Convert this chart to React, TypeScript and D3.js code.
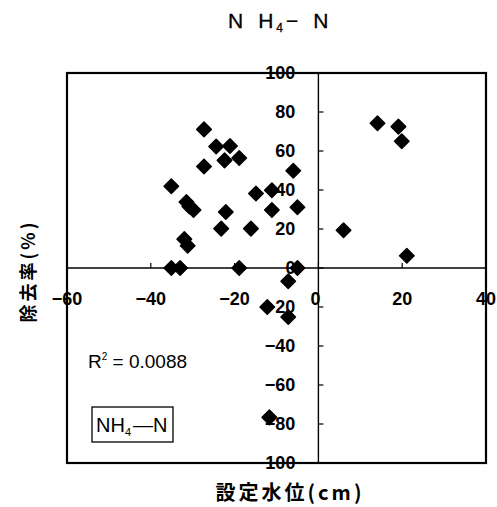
import * as d3 from "d3";

// 設定水位 (cm) vs 除去率 (%)
const levelCm = [
  -27.3, -24.4, -21.1, -22.4, -18.9, -27.3, -35.1, -31.5, -30.8, -29.8,
  -32.0, -31.2, -22.1, -23.2, -16.1, -14.9, -11.1, -11.1, -6.0, -5.0,
  -35.1, -33.0, -18.9, -5.0, -7.2, -12.2, -7.2, -11.7,
  6.0, 14.1, 19.1, 19.9, 21.1,
];
const removalPct = [
  71.1, 62.3, 62.6, 55.2, 56.4, 52.1, 41.9, 33.8, 31.5, 29.7,
  14.8, 11.4, 28.7, 20.2, 20.2, 38.2, 39.9, 29.7, 49.9, 31.2,
  0, 0, 0, 0, -6.8, -20.0, -25.1, -76.6,
  19.4, 74.2, 72.5, 65.0, 6.3,
];
const xTicks = [-60, -40, -20, 0, 20, 40];
const yTicks = [-100, -80, -60, -40, -20, 0, 20, 40, 60, 80, 100];

const W = 497;
const H = 507;
const m = { left: 67, right: 11, top: 73, bottom: 44 };

export default function App() {
  const x = d3.scaleLinear().domain([-60, 40]).range([m.left, W - m.right]);
  const y = d3.scaleLinear().domain([-100, 100]).range([H - m.bottom, m.top]);
  const diamond = d3.symbol().type(d3.symbolSquare).size(105)()!;
  const num = "'Liberation Sans', Arial, sans-serif";
  const jp = "'Noto Sans CJK JP', sans-serif";
  const x0 = x(0);
  const y0 = y(0);

  return (
    <svg
      width={W}
      height={H}
      style={{ position: "absolute", left: 0, top: 0, background: "#fff" }}
    >
      {/* title */}
      <text x={228} y={28} fontFamily={num} fontSize={21} stroke="#000" strokeWidth={0.3}>
        N<tspan dx={15}>H</tspan>
        <tspan fontSize={12} dx={3} dy={4}>4</tspan>
        <tspan dx={3} dy={-4}>−</tspan>
        <tspan dx={15}>N</tspan>
      </text>

      {/* plot frame */}
      <rect
        x={x(-60)}
        y={y(100)}
        width={x(40) - x(-60)}
        height={y(-100) - y(100)}
        fill="none"
        stroke="#000"
        strokeWidth={2.2}
      />

      {/* axes through origin */}
      <line x1={x(-60)} x2={x(40)} y1={y0} y2={y0} stroke="#000" strokeWidth={1.4} />
      <line x1={x0} x2={x0} y1={y(100)} y2={y(-100)} stroke="#000" strokeWidth={1.4} />

      {xTicks.map((t) => (
        <g key={"xt" + t}>
          <line x1={x(t)} x2={x(t)} y1={y0} y2={y0 - 5} stroke="#000" strokeWidth={1.2} />
          <text
            x={x(t) - (t === 0 ? 3 : 0)}
            y={y0 + 37}
            textAnchor="middle"
            fontFamily={num}
            fontSize={18}
            fontWeight="bold"
          >
            {t < 0 ? "−" + Math.abs(t) : t}
          </text>
        </g>
      ))}

      {yTicks.map((t) => (
        <g key={"yt" + t}>
          <line x1={x0} x2={x0 + 5} y1={y(t)} y2={y(t)} stroke="#000" strokeWidth={1.2} />
          <text
            x={x0 - 23}
            y={y(t)}
            dy="0.36em"
            textAnchor="end"
            fontFamily={num}
            fontSize={18}
            fontWeight="bold"
          >
            {t < 0 ? "−" + Math.abs(t) : t}
          </text>
        </g>
      ))}

      {/* points */}
      {levelCm.map((v, i) => (
        <path
          key={i}
          d={diamond}
          transform={`translate(${x(v)},${y(removalPct[i])}) rotate(45)`}
          fill="#000"
          stroke="#000"
          strokeWidth={1.5}
          strokeLinejoin="round"
        />
      ))}

      {/* R² */}
      <text x={88} y={368} fontFamily={num} fontSize={19}>
        R<tspan fontSize={10} dy={-8}>2</tspan>
        <tspan dy={8}> = 0.0088</tspan>
      </text>

      {/* legend box */}
      <rect x={92} y={407} width={81} height={35} fill="#fff" stroke="#000" strokeWidth={1.3} />
      <text x={96} y={432} fontFamily={num} fontSize={20}>
        NH<tspan fontSize={11} dy={4}>4</tspan>
        <tspan dx={2} dy={-4}>—N</tspan>
      </text>

      {/* axis titles */}
      <text
        x={290}
        y={500}
        textAnchor="middle"
        fontFamily={jp}
        fontSize={20}
        fontWeight="bold"
        letterSpacing={3}
      >
        設定水位(cm)
      </text>
      <text
        transform={`translate(35,${271}) rotate(-90)`}
        textAnchor="middle"
        fontFamily={jp}
        fontSize={18}
        fontWeight="bold"
        letterSpacing={3}
      >
        除去率(%)
      </text>
    </svg>
  );
}
